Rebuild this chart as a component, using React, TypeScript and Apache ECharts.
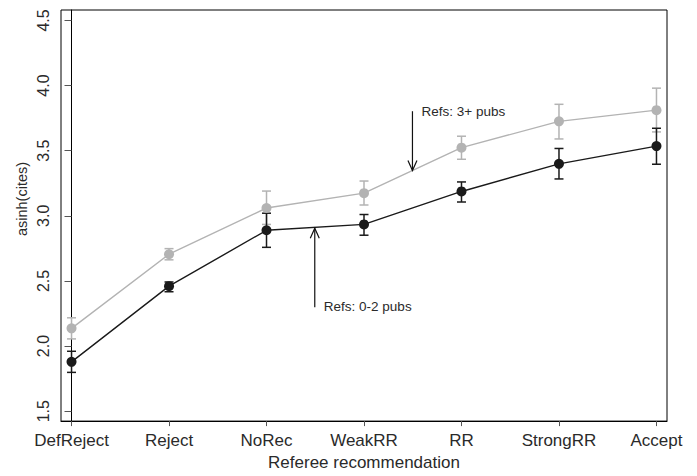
import React, { useEffect, useRef } from "react";
import * as echarts from "echarts";

const categories = ["DefReject", "Reject", "NoRec", "WeakRR", "RR", "StrongRR", "Accept"];
const yTicks = [1.5, 2.0, 2.5, 3.0, 3.5, 4.0, 4.5];

// Refs: 3+ pubs (gray)
const grayMean = [2.136, 2.705, 3.06, 3.174, 3.523, 3.725, 3.811];
const grayLow = [2.055, 2.662, 2.934, 3.083, 3.434, 3.59, 3.644];
const grayHigh = [2.217, 2.748, 3.19, 3.267, 3.611, 3.856, 3.98];

// Refs: 0-2 pubs (black)
const blackMean = [1.879, 2.46, 2.889, 2.934, 3.187, 3.399, 3.535];
const blackLow = [1.798, 2.417, 2.758, 2.851, 3.106, 3.283, 3.396];
const blackHigh = [1.96, 2.492, 3.02, 3.01, 3.26, 3.517, 3.672];

// annotations: [arrowX, tailY, tipY, textX, textY]
const annotationLabels = ["Refs: 3+ pubs", "Refs: 0-2 pubs"];
const annotationGeom = [
  [3.497, 3.803, 3.348, 3.59, 3.797],
  [2.495, 2.298, 2.904, 2.588, 2.303],
];

const GRAY = "#b3b3b3";
const BLACK = "#1a1a1a";
const TEXT = "#2a2a2a";
const FONT = "'Liberation Sans', Arial, sans-serif";

function errorBarSeries(low: number[], high: number[], color: string) {
  return {
    type: "custom",
    data: low.map((l, i) => [i, l, high[i]]),
    renderItem: (params: any, api: any) => {
      const x = api.value(0);
      const lo = api.coord([x, api.value(1)]);
      const hi = api.coord([x, api.value(2)]);
      const hw = 4.5;
      const style = { stroke: color, lineWidth: 1.5 };
      return {
        type: "group",
        children: [
          { type: "line", shape: { x1: lo[0], y1: lo[1], x2: hi[0], y2: hi[1] }, style },
          { type: "line", shape: { x1: lo[0] - hw, y1: lo[1], x2: lo[0] + hw, y2: lo[1] }, style },
          { type: "line", shape: { x1: hi[0] - hw, y1: hi[1], x2: hi[0] + hw, y2: hi[1] }, style },
        ],
      };
    },
    z: 2,
  };
}

function lineSeries(values: number[], color: string) {
  return {
    type: "line",
    data: values.map((v, i) => [i, v]),
    symbol: "circle",
    symbolSize: 10,
    lineStyle: { color, width: 1.4 },
    itemStyle: { color },
    z: 3,
  };
}

export default function App() {
  const ref = useRef<HTMLDivElement>(null);
  useEffect(() => {
    if (!ref.current) return;
    const chart = echarts.init(ref.current, null, { renderer: "svg" });
    chart.setOption({
      animation: false,
      backgroundColor: "#fff",
      grid: {
        left: 61,
        top: 10,
        right: 30,
        bottom: 48,
        show: true,
        borderColor: "#000",
        borderWidth: 1,
        backgroundColor: "transparent",
      },
      xAxis: {
        type: "value",
        min: -0.108,
        max: 6.108,
        name: "Referee recommendation",
        nameLocation: "middle",
        nameGap: 32,
        nameTextStyle: { fontFamily: FONT, fontSize: 17, color: TEXT },
        axisLine: { show: true, lineStyle: { color: "#000", width: 1 } },
        axisTick: {
          show: true,
          length: 5,
          customValues: categories.map((_, i) => i),
          lineStyle: { color: "#555" },
        },
        axisLabel: {
          customValues: categories.map((_, i) => i),
          formatter: (v: number) => categories[Math.round(v)] ?? "",
          fontFamily: FONT,
          fontSize: 17,
          color: TEXT,
          margin: 11,
        },
        splitLine: { show: false },
      },
      yAxis: {
        type: "value",
        min: 1.424,
        max: 4.58,
        axisLine: { show: true, lineStyle: { color: "#000", width: 1 } },
        axisTick: {
          show: true,
          length: 7,
          customValues: yTicks,
          lineStyle: { color: "#555" },
        },
        axisLabel: {
          customValues: yTicks,
          formatter: (v: number) => v.toFixed(1),
          rotate: 90,
          fontFamily: FONT,
          fontSize: 16,
          color: TEXT,
          margin: 10,
        },
        splitLine: { show: false },
      },
      graphic: [
        {
          type: "text",
          x: 22,
          y: 199,
          rotation: Math.PI / 2,
          style: {
            text: "asinh(cites)",
            font: `14.5px ${FONT}`,
            fill: TEXT,
            align: "center",
            verticalAlign: "middle",
          },
        },
      ],
      series: [
        errorBarSeries(grayLow, grayHigh, GRAY),
        lineSeries(grayMean, GRAY),
        errorBarSeries(blackLow, blackHigh, BLACK),
        lineSeries(blackMean, BLACK),
        {
          type: "custom",
          data: annotationGeom.map((g, i) => [...g, i]),
          renderItem: (params: any, api: any) => {
            const x = api.value(0);
            const tail = api.coord([x, api.value(1)]);
            const tip = api.coord([x, api.value(2)]);
            const txt = api.coord([api.value(3), api.value(4)]);
            const dir = tip[1] > tail[1] ? 1 : -1;
            const ah = 10;
            const aw = 4.5;
            const style = { stroke: "#111", lineWidth: 1.2, fill: "none" };
            return {
              type: "group",
              children: [
                { type: "line", shape: { x1: tail[0], y1: tail[1], x2: tip[0], y2: tip[1] }, style },
                {
                  type: "polyline",
                  shape: {
                    points: [
                      [tip[0] - aw, tip[1] - dir * ah],
                      [tip[0], tip[1]],
                      [tip[0] + aw, tip[1] - dir * ah],
                    ],
                  },
                  style,
                },
                {
                  type: "text",
                  x: txt[0],
                  y: txt[1],
                  style: {
                    text: annotationLabels[api.value(5)],
                    font: `13.5px ${FONT}`,
                    fill: TEXT,
                    align: "left",
                    verticalAlign: "middle",
                  },
                },
              ],
            };
          },
          z: 4,
        },
      ],
    });
    return () => chart.dispose();
  }, []);
  return <div ref={ref} style={{ width: 697, height: 476, position: "absolute", left: 0, top: 0 }} />;
}
